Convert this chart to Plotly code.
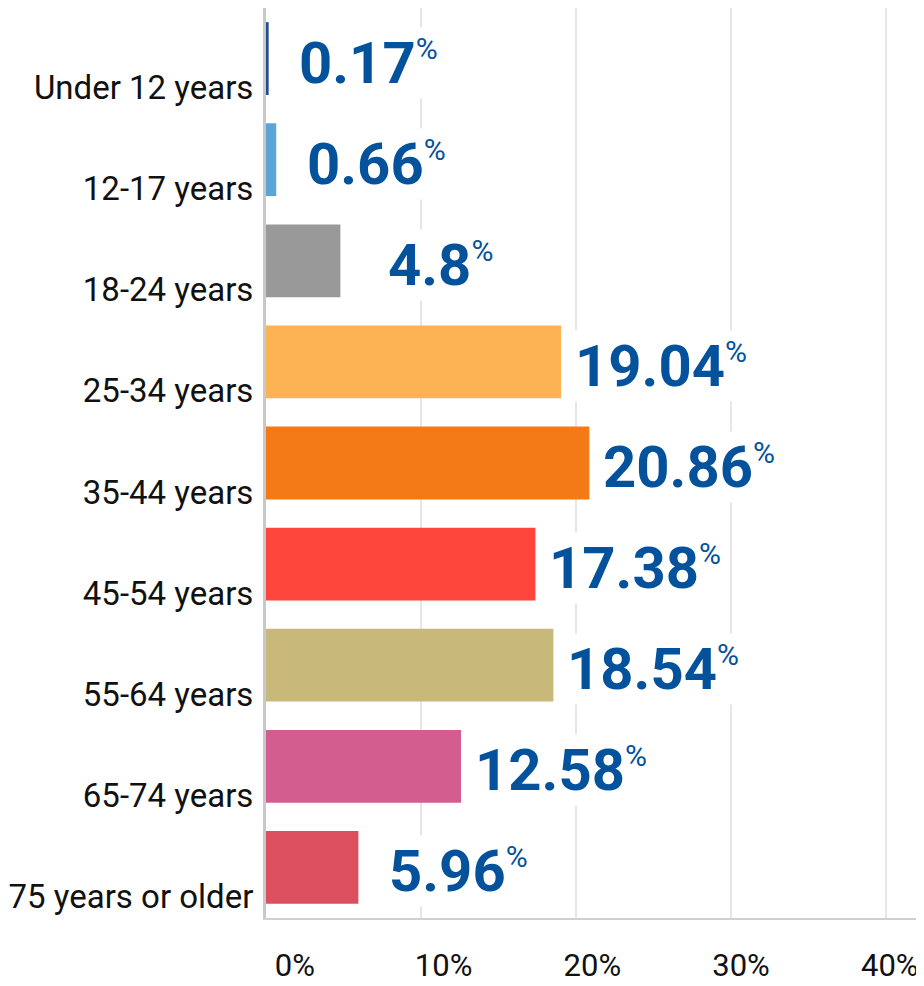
import plotly.graph_objects as go

categories = ["Under 12 years", "12-17 years", "18-24 years", "25-34 years", "35-44 years",
              "45-54 years", "55-64 years", "65-74 years", "75 years or older"]
values = [0.17, 0.66, 4.8, 19.04, 20.86, 17.38, 18.54, 12.58, 5.96]
colors = ["#1f4e8c", "#5aa5d8", "#999999", "#fdb254", "#f47a17",
          "#fe463c", "#c8b87a", "#d45d8f", "#db4f5e"]
x_ticks = [0, 10, 20, 30, 40]
x_tick_labels = ["0%", "10%", "20%", "30%", "40%"]

fig = go.Figure()
fig.add_trace(go.Bar(
    y=categories, x=values, orientation="h",
    marker=dict(color=colors, line=dict(width=0)),
    width=0.72, hoverinfo="skip", showlegend=False,
))
# invisible trace to carry the tick-label axis
fig.add_trace(go.Scatter(x=[x_ticks[0]], y=[categories[0]], xaxis="x2",
                         mode="markers", marker=dict(opacity=0), showlegend=False,
                         hoverinfo="skip"))

for c, v in zip(categories, values):
    fig.add_annotation(
        x=v, y=c, xref="x", yref="y",
        text=f"{v:g}<sup><span style='font-size:30px;font-weight:400'>%</span></sup>",
        showarrow=False, xanchor="center", yanchor="middle",
        xshift=100, yshift=-4,
        bgcolor="white",
        font=dict(family="Roboto", size=58, color="#03529b", weight="bold"),
    )

fig.update_layout(
    width=916, height=978,
    margin=dict(l=258, r=0, t=0, b=68),
    plot_bgcolor="white", paper_bgcolor="white",
    xaxis=dict(range=[0, 42.45], showgrid=True, gridcolor="#e6e6e6", gridwidth=2,
               tickvals=x_ticks, showticklabels=False, zeroline=False, automargin=False,
               showline=True, linecolor="#d0d0d0", linewidth=2),
    xaxis2=dict(overlaying="x", anchor="y", side="bottom", range=[-1.94, 42.3],
                tickmode="array", tickvals=x_ticks, ticktext=x_tick_labels,
                showgrid=False, zeroline=False, automargin=False,
                showline=False, ticklabelstandoff=26,
                tickfont=dict(family="Roboto", size=31, color="#111111")),
    yaxis=dict(autorange="reversed", showgrid=False, zeroline=False, automargin=False,
               showline=True, linecolor="#c8c8c8", linewidth=3,
               ticklabelstandoff=3, ticklabelshift=-29,
               tickfont=dict(family="Roboto", size=33, color="#111111")),
)

fig.write_html("out.html")
